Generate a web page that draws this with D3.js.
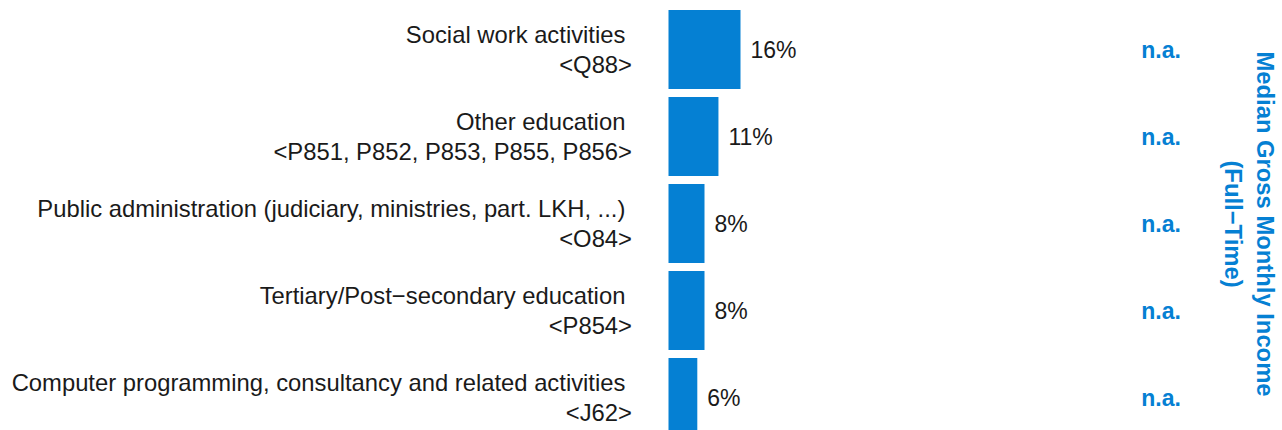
<!DOCTYPE html>
<html>
<head>
<meta charset="utf-8">
<script src="https://cdn.jsdelivr.net/npm/d3@7"></script>
<style>
  html, body { margin: 0; padding: 0; background: #ffffff; }
  svg { display: block; font-family: Arial, "Liberation Sans", sans-serif; }
</style>
</head>
<body>
<svg id="chart" width="1282" height="430"></svg>
<script>
const categories = [
  "Social work activities",
  "Other education",
  "Public administration (judiciary, ministries, part. LKH, ...)",
  "Tertiary/Post\u2212secondary education",
  "Computer programming, consultancy and related activities"
];
const codes = [
  "<Q88>",
  "<P851, P852, P853, P855, P856>",
  "<O84>",
  "<P854>",
  "<J62>"
];
const shares = [0.16, 0.111, 0.08, 0.08, 0.064];
const incomes = ["n.a.", "n.a.", "n.a.", "n.a.", "n.a."];
const titleLines = ["Median Gross Monthly Income", "(Full\u2212Time)"];

const blue = "#0580d3";

const svg = d3.select("#chart");
const y = d3.scaleBand().domain(categories).range([10, 437]).paddingInner(0.092).paddingOuter(0);
const x = d3.scaleLinear().domain([0, 0.16]).range([668.5, 740.5]);
const pct = d3.format(".0%");

const data = categories.map((c, i) => ({ cat: c, code: codes[i], v: shares[i], inc: incomes[i] }));

// bars
svg.append("g").selectAll("rect").data(data).join("rect")
  .attr("x", x(0))
  .attr("y", d => y(d.cat))
  .attr("width", d => x(d.v) - x(0))
  .attr("height", y.bandwidth())
  .attr("fill", blue);

// value labels
svg.append("g").selectAll("text").data(data).join("text")
  .attr("x", d => x(d.v) + 10)
  .attr("y", d => y(d.cat) + y.bandwidth() / 2)
  .attr("dy", "0.36em")
  .attr("font-size", 23)
  .attr("fill", "#1a1a1a")
  .text(d => pct(d.v));

// category labels (two lines)
const lab = svg.append("g").selectAll("text").data(data).join("text")
  .attr("text-anchor", "end")
  .attr("font-size", 23.8)
  .attr("fill", "#1a1a1a")
  .style("white-space", "pre");
lab.append("tspan")
  .attr("x", x(0) - 36.5)
  .attr("y", d => y(d.cat) + y.bandwidth() / 2 - 6.5)
  .text(d => d.cat + " ");
lab.append("tspan")
  .attr("x", x(0) - 36.5)
  .attr("y", d => y(d.cat) + y.bandwidth() / 2 + 23.5)
  .text(d => d.code);

// income labels
svg.append("g").selectAll("text").data(data).join("text")
  .attr("x", 1161)
  .attr("y", d => y(d.cat) + y.bandwidth() / 2)
  .attr("dy", "0.36em")
  .attr("text-anchor", "middle")
  .attr("font-size", 23)
  .attr("font-weight", "bold")
  .attr("fill", blue)
  .text(d => d.inc);

// rotated title
const title = svg.append("text")
  .attr("transform", "translate(1257,224) rotate(90)")
  .attr("text-anchor", "middle")
  .attr("font-size", 23.8)
  .attr("font-weight", "bold")
  .attr("fill", blue);
title.selectAll("tspan").data(titleLines).join("tspan")
  .attr("x", 0)
  .attr("y", (d, i) => i * 32)
  .text(d => d);
</script>
</body>
</html>
